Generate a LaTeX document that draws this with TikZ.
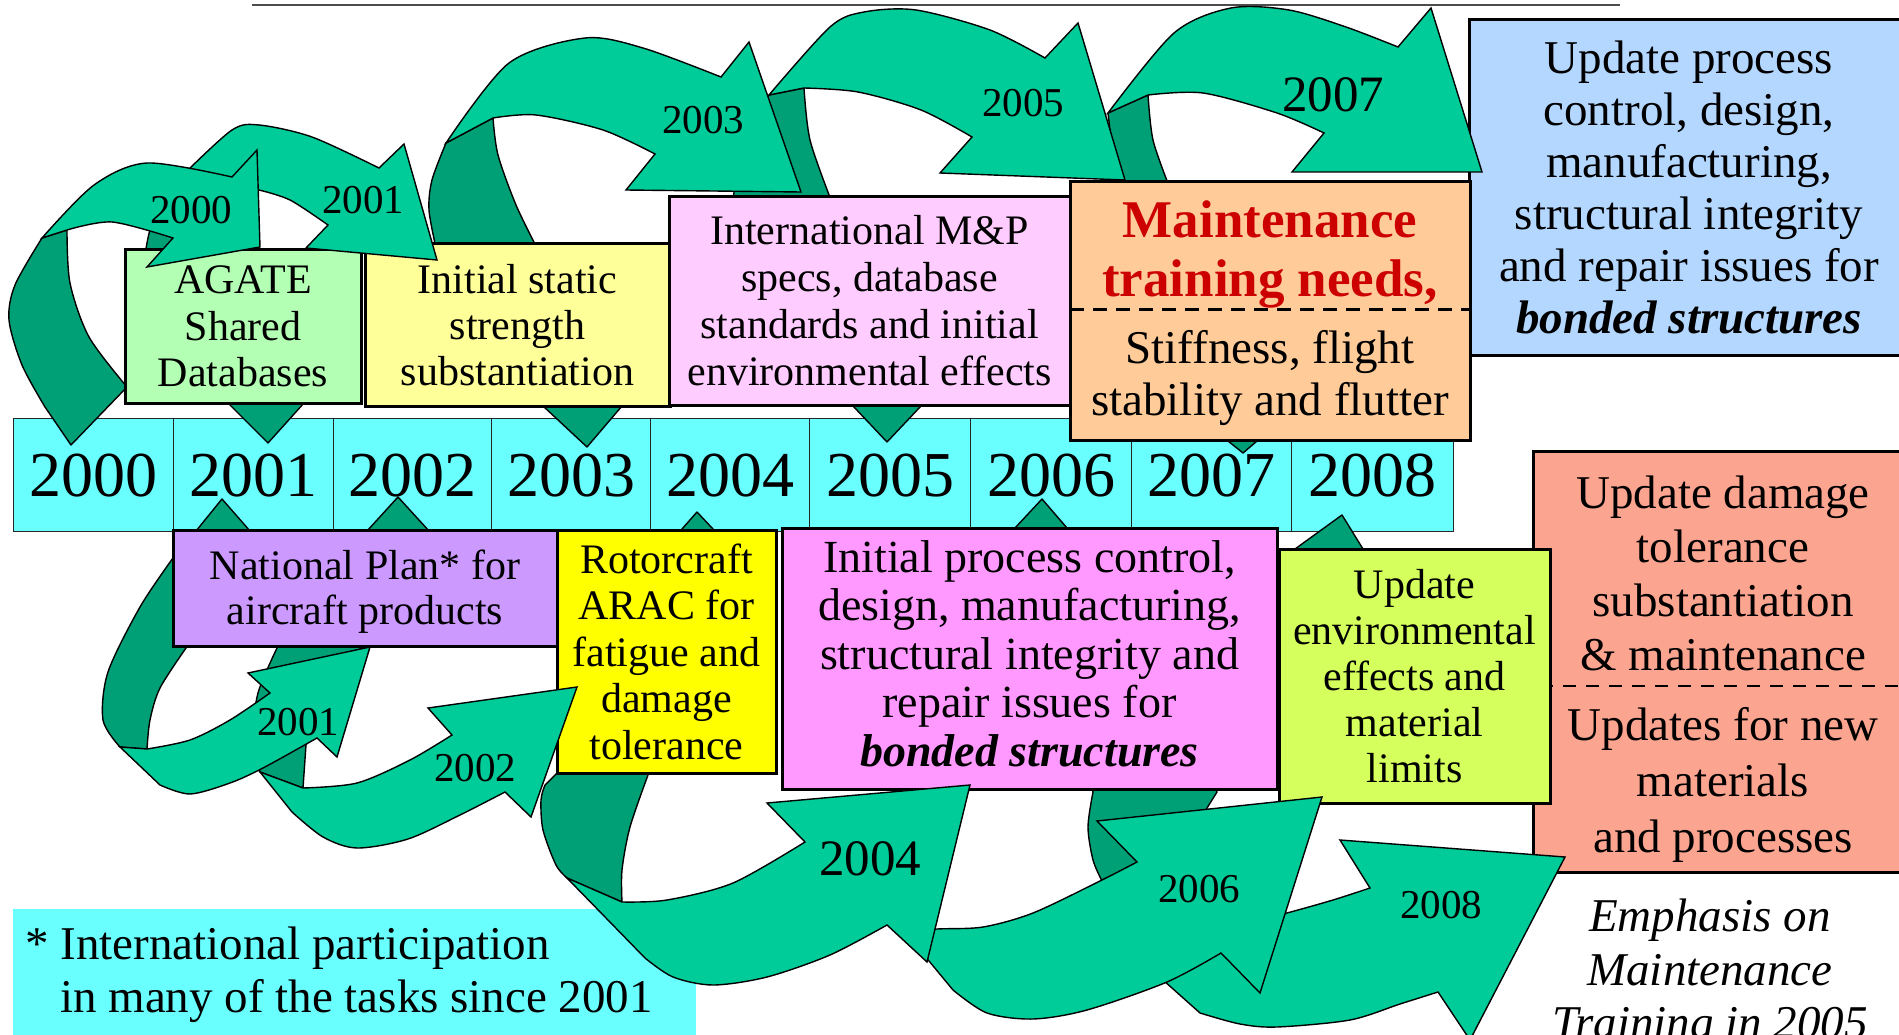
\documentclass[tikz,border=0pt]{standalone}
\usepackage{fontspec}
\setmainfont{Liberation Serif}
\definecolor{cCyan}{HTML}{6AFFFF}
\definecolor{cAgate}{HTML}{B3FFB3}
\definecolor{cStatic}{HTML}{FFFF99}
\definecolor{cMP}{HTML}{FFCCFF}
\definecolor{cMaint}{HTML}{FFCC99}
\definecolor{cBlue}{HTML}{B3D7FF}
\definecolor{cNP}{HTML}{CC99FF}
\definecolor{cRotor}{HTML}{FFFF00}
\definecolor{cInit}{HTML}{FF99FF}
\definecolor{cEnv}{HTML}{D5FF5C}
\definecolor{cSalmon}{HTML}{FBA48F}
\definecolor{aLite}{HTML}{00CC99}
\definecolor{aDark}{HTML}{00A077}
\definecolor{cRed}{HTML}{CC0000}
\newcommand\fsYear{\fontsize{64}{70}\selectfont}
\newcommand\fsLbl{\fontsize{41}{45}\selectfont}
\newcommand\fsLblBig{\fontsize{51}{55}\selectfont}
\newcommand\fsBox[2]{\fontsize{#1}{#2}\selectfont}
\tikzset{
  darkpart/.style={fill=aDark, draw=black, line width=1.4pt, line join=round},
  litepart/.style={fill=aLite, draw=black, line width=1.4pt, line join=miter, miter limit=12},
  box/.style={draw=black, line width=3pt, inner sep=0pt, outer sep=0pt, align=center, anchor=north west},
  cell/.style={draw=black!85, line width=1.2pt, fill=cCyan, inner sep=0pt, anchor=north west, minimum height=113pt, font=\fsYear},
  lbl/.style={inner sep=0pt, font=\fsLbl},
  txt/.style={inner sep=0pt, anchor=base},
}
\begin{document}
\begin{tikzpicture}[x=1pt,y=-1pt]
\useasboundingbox (0,0) rectangle (1899,1035);
\clip (0,0) rectangle (1899,1035);
\fill[white] (0,0) rectangle (1899,1035);

% top rule
\coordinate (r1) at (252,5);
\coordinate (r2) at (1620,5);
\draw[black!70, line width=1.7pt] (r1) -- (r2);

% timeline
\node[cell, minimum width=160] (y2000) at (13,418) {2000};
\node[cell, minimum width=160] (y2001) at (173,418) {2001};
\node[cell, minimum width=158] (y2002) at (333,418) {2002};
\node[cell, minimum width=159] (y2003) at (491,418) {2003};
\node[cell, minimum width=159] (y2004) at (650,418) {2004};
\node[cell, minimum width=161] (y2005) at (809,418) {2005};
\node[cell, minimum width=161] (y2006) at (970,418) {2006};
\node[cell, minimum width=160] (y2007) at (1131,418) {2007};
\node[cell, minimum width=162] (y2008) at (1291,418) {2008};

% footnote
\fill[cCyan] (13,909) rectangle (696,1040);
\node[anchor=base west, inner sep=0pt, font=\fsBox{47}{53}] (fn1) at (25,959) {* International participation};
\node[anchor=base west, inner sep=0pt, font=\fsBox{47}{53}] (fn2) at (60,1012) {in many of the tasks since 2001};

% ---------- dark (back) parts ----------
\path[darkpart] plot[smooth] coordinates {(1108,113) (1113,150) (1122,186)} -- (1228,441) -- (1243,453) -- (1257,441) -- plot[smooth] coordinates {(1169,186) (1153,140) (1148,95)} -- cycle;
\path[darkpart] plot[smooth] coordinates {(769,95) (748,140) (737,175) (733,200)} -- (853,406) -- (887,442) -- (921,406) -- plot[smooth] coordinates {(831,200) (810,140) (804,88)} -- cycle;
\path[darkpart] plot[smooth] coordinates {(446,143) (432,180) (429,210) (436,248)} -- (543,406) -- (587,447) -- (622,406) -- plot[smooth] coordinates {(537,248) (516,205) (498,155) (493,118)} -- cycle;
\path[darkpart] plot[smooth] coordinates {(186,172) (163,200) (150,230) (145,255)} -- (228,403) -- (268,443) -- (304,403) -- (245,255) -- (250,200) -- (259,190) -- cycle;
\path[darkpart] plot[smooth] coordinates {(42,238) (15,285) (9,320) (22,365) (45,407)} -- (71,445) -- (127,387) -- plot[smooth] coordinates {(127,387) (89,337) (70,283) (67,230)} -- cycle;

\path[darkpart] (1295,549) -- (1342,515) -- (1363,549) -- (1318,800) -- (1290,830) -- (1285,800) -- cycle;
\path[darkpart] (1015,528) -- (1042,499) -- (1067,528) -- (1217,792) -- (1207,808) -- (1180,880) -- (1120,886) -- plot[smooth] coordinates {(1102,881) (1093,860) (1088,827) (1093,792)} -- cycle;
\path[darkpart] (682,529) -- (697,512) -- (713,529) -- (648,775) -- plot[smooth] coordinates {(648,775) (630,827) (622,870) (622,902)} -- (567,878) -- plot[smooth] coordinates {(567,878) (556,865) (543,830) (541,800) (545,785)} -- (562,768) -- cycle;
\path[darkpart] (367,531) -- (398,497) -- (429,531) -- (330,700) -- (306,745) -- (303,788) -- (260,772) -- plot[smooth] coordinates {(260,772) (253,737) (258,693) (277,648)} -- cycle;
\path[darkpart] (196,531) -- (222,499) -- (250,531) -- (186,648) -- plot[smooth] coordinates {(186,648) (160,688) (150,720) (147,749)} -- (120,747) -- plot[smooth] coordinates {(120,747) (103,720) (108,672) (140,607) (173,558)} -- cycle;

% ---------- boxes ----------
\node[box, fill=cAgate, minimum width=236, minimum height=153, font=\fsBox{42}{46.5}] (agate) at (125,250) {AGATE\\Shared\\Databases};
\node[box, fill=cStatic, minimum width=305, minimum height=162, font=\fsBox{42}{46}] (static) at (365,244) {Initial static\\strength\\substantiation};
\node[box, fill=cMP, minimum width=401, minimum height=208, font=\fsBox{42}{47}] (mp) at (669,197) {International M\&P\\specs, database\\standards and initial\\environmental effects};
\node[box, fill=cBlue, minimum width=440, minimum height=335, font=\fsBox{47}{52}] (blue) at (1469,20) {Update process\\control, design,\\manufacturing,\\structural integrity\\and repair issues for\\\textbf{\textit{bonded structures}}};
\node[box, fill=cMaint, minimum width=400, minimum height=258] (maint) at (1070,182) {};
\coordinate (md1) at (1070,309);
\coordinate (md2) at (1470,309);
\draw[line width=3pt, dash pattern=on 14pt off 9pt] (md1) -- (md2);
\node[txt, text=cRed, font=\fsBox{53}{58}\bfseries] (mt1) at (1270,238) {Maintenance};
\node[txt, text=cRed, font=\fsBox{53}{58}\bfseries] (mt2) at (1270,297) {training needs,};
\node[txt, font=\fsBox{47}{50}] (mt3) at (1270,363) {Stiffness, flight};
\node[txt, font=\fsBox{47}{50}] (mt4) at (1270,415) {stability and flutter};

\node[box, fill=cSalmon, minimum width=380, minimum height=421] (salmon) at (1533,451) {};
\coordinate (sd1) at (1540,686);
\coordinate (sd2) at (1899,686);
\draw[line width=2.5pt, dash pattern=on 13pt off 10pt] (sd1) -- (sd2);
\node[inner sep=0pt, align=center, font=\fsBox{47}{54}] (st1) at (1723,573) {Update damage\\tolerance\\substantiation\\\& maintenance};
\node[inner sep=0pt, align=center, font=\fsBox{47}{56}] (st2) at (1723,785) {Updates for new\\materials\\and processes};

\node[box, fill=cNP, minimum width=384, minimum height=116] (np) at (173,530) {};
\node[inner sep=0pt, align=center, font=\fsBox{42}{45}] (npt) at (365,592) {National Plan* for\\aircraft products};
\node[box, fill=cRotor, minimum width=219, minimum height=243, font=\fsBox{42}{46.5}] (rotor) at (557,530) {Rotorcraft\\ARAC for\\fatigue and\\damage\\tolerance};
\node[box, fill=cInit, minimum width=495, minimum height=261] (initp) at (782,528) {};
\node[inner sep=0pt, align=center, font=\fsBox{46}{48.5}] (initt) at (1029.5,653.5) {Initial process control,\\design, manufacturing,\\structural integrity and\\repair issues for\\\textbf{\textit{bonded structures}}};
\node[box, fill=cEnv, minimum width=271, minimum height=254, font=\fsBox{42}{46}] (env) at (1279,549) {Update\\environmental\\effects and\\material\\limits};

% ---------- light (front) parts ----------
\path[litepart] plot[smooth] coordinates {(1108,113) (1174,33) (1231,8) (1289,10) (1346,27) (1398,47)} -- (1431,8) -- (1482,172) -- (1292,172) -- (1324,133) -- plot[smooth] coordinates {(1324,133) (1277,113) (1203,93) (1148,95)} -- cycle;
\path[litepart] plot[smooth] coordinates {(769,95) (830,27) (864,12) (916,10) (990,30) (1045,58)} -- (1078,23) -- (1125,180) -- (940,173) -- (972,137) -- plot[smooth] coordinates {(972,137) (921,110) (858,92) (804,88)} -- cycle;
\path[litepart] plot[smooth] coordinates {(446,143) (509,63) (585,38) (643,48) (721,77)} -- (749,42) -- (801,192) -- (626,190) -- (655,154) -- plot[smooth] coordinates {(655,154) (603,130) (536,115) (493,118)} -- cycle;
\path[litepart] plot[smooth] coordinates {(186,172) (232,130) (259,125) (312,137) (379,168)} -- (404,144) -- (437,260) -- (306,248) -- (328,225) -- plot[smooth] coordinates {(328,225) (290,200) (259,190)} -- cycle;
\path[litepart] plot[smooth] coordinates {(42,238) (94,185) (147,163) (232,177)} -- (257,150) -- (260,247) -- (147,267) -- (173,238) -- plot[smooth] coordinates {(173,238) (112,222) (67,230)} -- cycle;

\path[litepart] (1240,925) -- (1163,980) -- (1200,1013) -- plot[smooth] coordinates {(1200,1013) (1240,1024) (1277,1027) (1350,1020) (1400,1004) (1438,992)} -- (1470,1040) -- (1565,857) -- (1340,840) -- (1370,888) -- plot[smooth] coordinates {(1370,888) (1333,900) (1287,913) (1240,925)} -- cycle;
\path[litepart] (905,932) -- (953,990) -- plot[smooth] coordinates {(953,990) (987,1013) (1033,1019) (1087,1010) (1167,982) (1221,953)} -- (1260,993) -- (1322,797) -- (1097,821) -- (1137,862) -- plot[smooth] coordinates {(1137,862) (1100,881) (1033,913) (983,927) (937,929) (905,932)} -- cycle;
\path[litepart] (567,878) -- (645,958) -- plot[smooth] coordinates {(645,958) (673,977) (713,985) (767,977) (830,955) (887,925)} -- (927,962) -- (970,785) -- (767,803) -- (805,842) -- plot[smooth] coordinates {(805,842) (733,883) (667,900) (622,902)} -- cycle;
\path[litepart] (260,772) -- (292,812) -- plot[smooth] coordinates {(292,812) (323,837) (357,848) (408,839) (460,815) (505,792)} -- (531,817) -- (577,687) -- (428,708) -- (452,735) -- plot[smooth] coordinates {(452,735) (410,760) (357,783) (303,788)} -- cycle;
\path[litepart] (120,747) -- (160,785) -- plot[smooth] coordinates {(160,785) (190,794) (230,783) (263,768) (317,738)} -- (337,757) -- (370,647) -- (248,673) -- (270,693) -- plot[smooth] coordinates {(270,693) (230,720) (190,740) (147,749)} -- cycle;

% ---------- arrow labels ----------
\node[lbl] (l2000) at (191,210) {2000};
\node[lbl] (l2001a) at (363,200) {2001};
\node[lbl] (l2003) at (703,120) {2003};
\node[lbl] (l2005) at (1023,103) {2005};
\node[lbl, font=\fsLblBig] (l2007) at (1333,95) {2007};
\node[lbl] (l2001b) at (298,722) {2001};
\node[lbl] (l2002) at (475,768) {2002};
\node[lbl, font=\fsLblBig] (l2004) at (870,859) {2004};
\node[lbl] (l2006) at (1199,889) {2006};
\node[lbl] (l2008) at (1441,905) {2008};

% ---------- emphasis note ----------
\node[txt, font=\fsBox{47}{53}\itshape] (em1) at (1710,931) {Emphasis on};
\node[txt, font=\fsBox{47}{53}\itshape] (em2) at (1710,985) {Maintenance};
\node[txt, font=\fsBox{47}{53}\itshape] (em3) at (1710,1038) {Training in 2005};
\end{tikzpicture}
\end{document}
